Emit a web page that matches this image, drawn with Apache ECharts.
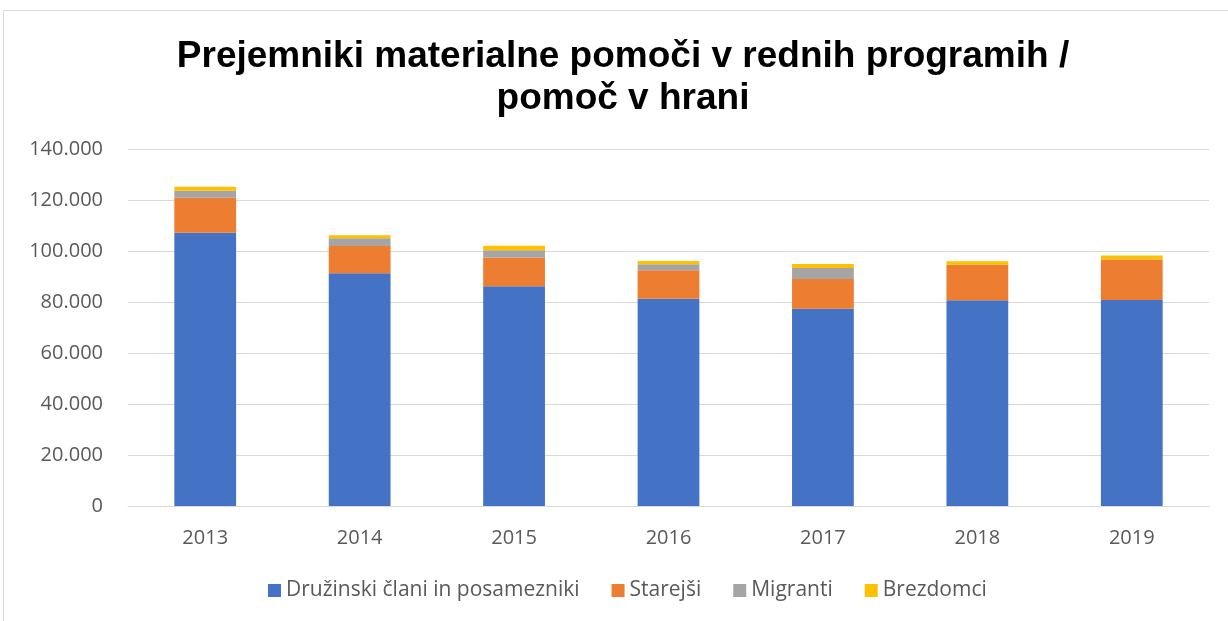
<!DOCTYPE html>
<html>
<head>
<meta charset="utf-8">
<script src="https://cdn.jsdelivr.net/npm/echarts@6/dist/echarts.min.js"></script>
<style>
  html, body { margin: 0; padding: 0; background: #fff; }
  #chart { width: 1228px; height: 621px; }
</style>
</head>
<body>
<div id="chart"></div>
<script>
// Recipients of material aid in regular programmes, by year
const years = ['2013', '2014', '2015', '2016', '2017', '2018', '2019'];
const druzinski = [107200, 91300, 86200, 81300, 77400, 80700, 80800];
const starejsi  = [13700, 10700, 11300, 11200, 11600, 13900, 15900];
const migranti  = [2700, 3000, 2800, 2300, 4300, 0, 0];
const brezdomci = [1600, 1200, 1800, 1300, 1600, 1400, 1500];
const yTicks = [0, 20000, 40000, 60000, 80000, 100000, 120000, 140000];

const fmt = v => v === 0 ? '0' : String(v).replace(/\B(?=(\d{3})+(?!\d))/g, '.');

const chart = echarts.init(document.getElementById('chart'));
const titleFont = 'Liberation Sans, Arial, sans-serif';
const font = 'Open Sans, Noto Sans, sans-serif';

function bar(name, data, color) {
  return { name, type: 'bar', stack: 'total', data, barCategoryGap: '60%',
    itemStyle: { color }, emphasis: { disabled: true } };
}

chart.setOption({
  animation: false,
  title: {
    text: 'Prejemniki materialne pomoči v rednih programih /\npomoč v hrani',
    left: 623, top: 36, textAlign: 'center', padding: 0,
    textStyle: { fontFamily: titleFont, fontSize: 37, fontWeight: 'bold', color: '#000', lineHeight: 42 }
  },
  graphic: [{
    type: 'rect', shape: { x: 3.5, y: 10.5, width: 1240, height: 640 },
    style: { fill: 'none', stroke: '#d9d9d9', lineWidth: 1 }, silent: true
  }],
  legend: {
    top: 580, left: 268, padding: 0, itemWidth: 13, itemHeight: 13, itemGap: 32,
    icon: 'rect',
    textStyle: { fontFamily: font, fontSize: 21, color: '#595959' }
  },
  grid: { left: 128, right: 19, top: 149, bottom: 115, containLabel: false },
  xAxis: {
    type: 'category', data: years,
    axisLine: { lineStyle: { color: '#d9d9d9' } },
    axisTick: { show: false },
    axisLabel: { fontFamily: font, fontSize: 20, color: '#595959', margin: 22 }
  },
  yAxis: {
    type: 'value', min: yTicks[0], max: yTicks[yTicks.length - 1], interval: 20000,
    axisLine: { show: false }, axisTick: { show: false },
    splitLine: { lineStyle: { color: '#d9d9d9' } },
    axisLabel: { fontFamily: font, fontSize: 20, color: '#595959', margin: 25, formatter: fmt }
  },
  series: [
    bar('Družinski člani in posamezniki', druzinski, '#4472c4'),
    bar('Starejši', starejsi, '#ed7d31'),
    bar('Migranti', migranti, '#a5a5a5'),
    bar('Brezdomci', brezdomci, '#ffc000')
  ]
});
</script>
</body>
</html>
